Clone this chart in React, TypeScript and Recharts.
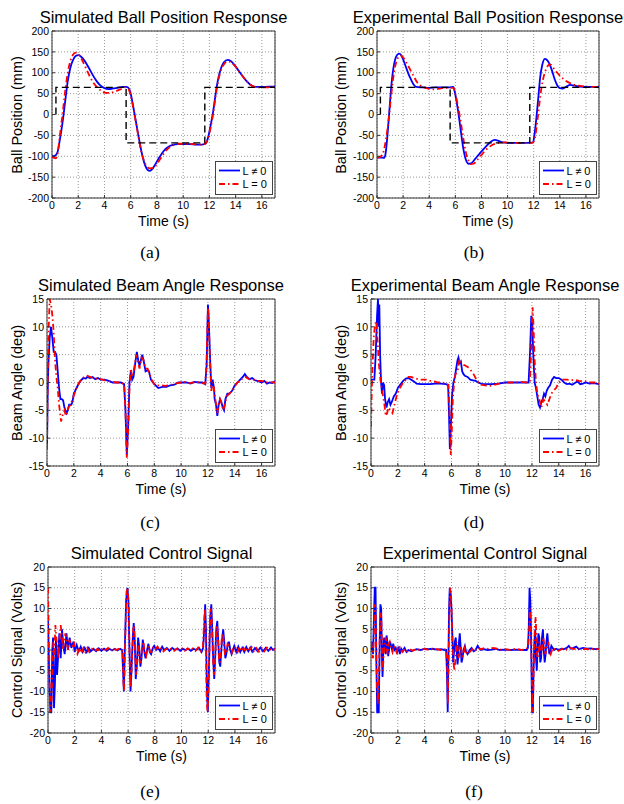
import React from 'react';
import { LineChart, Line, XAxis, YAxis, CartesianGrid, ReferenceArea, Legend } from 'recharts';

type Pt = [number, number];

const timeTicks = [0, 2, 4, 6, 8, 10, 12, 14, 16];
const ballTicks = [-200, -150, -100, -50, 0, 50, 100, 150, 200];
const angleTicks = [-15, -10, -5, 0, 5, 10, 15];
const voltTicks = [-20, -15, -10, -5, 0, 5, 10, 15, 20];
const legendNames = ['L \u2260 0', 'L = 0'];

// (a) Simulated ball position
const simBallRef: Pt[] = [[0.3, 0], [0.3, 65], [5.65, 65], [5.65, -68], [11.65, -68], [11.65, 65], [17, 65]];
const simBallLn0: Pt[] = [[0, -100], [0.2, -99], [0.4, -92], [0.6, -60], [0.8, -20], [1.0, 30], [1.2, 80], [1.4, 112], [1.6, 130], [1.8, 140], [2.0, 142], [2.2, 139], [2.5, 128], [2.8, 112], [3.1, 95], [3.4, 80], [3.7, 69], [4.0, 63], [4.3, 61], [4.6, 62], [5.0, 64], [5.4, 66], [5.7, 66], [5.9, 60], [6.1, 35], [6.3, 0], [6.5, -35], [6.7, -70], [6.9, -100], [7.1, -122], [7.3, -133], [7.45, -135], [7.6, -132], [7.9, -118], [8.2, -102], [8.5, -88], [8.8, -79], [9.2, -73], [9.6, -71], [10, -71], [10.5, -71], [11, -72], [11.4, -72], [11.7, -70], [11.9, -55], [12.1, -25], [12.3, 10], [12.5, 55], [12.7, 90], [12.9, 112], [13.1, 125], [13.4, 131], [13.6, 129], [13.9, 119], [14.2, 106], [14.5, 93], [14.8, 81], [15.1, 72], [15.4, 67], [15.7, 66], [16.2, 66], [16.7, 67], [17, 67]];
const simBallL0: Pt[] = [[0, -102], [0.15, -104], [0.3, -105], [0.45, -90], [0.6, -50], [0.8, 0], [1.0, 55], [1.2, 100], [1.4, 128], [1.6, 143], [1.8, 148], [2.0, 145], [2.3, 130], [2.6, 110], [2.9, 90], [3.2, 74], [3.5, 63], [3.8, 56], [4.1, 52], [4.4, 52], [4.8, 55], [5.2, 60], [5.6, 65], [5.8, 63], [6.0, 45], [6.2, 15], [6.4, -20], [6.6, -55], [6.8, -88], [7.0, -110], [7.2, -123], [7.45, -129], [7.7, -128], [8.0, -118], [8.3, -104], [8.6, -90], [8.9, -80], [9.3, -73], [9.7, -70], [10.2, -70], [10.8, -71], [11.3, -72], [11.7, -70], [11.9, -58], [12.1, -30], [12.3, 5], [12.5, 50], [12.7, 85], [12.9, 108], [13.1, 120], [13.4, 127], [13.6, 126], [13.9, 118], [14.2, 106], [14.5, 93], [14.8, 81], [15.1, 72], [15.4, 67], [15.8, 65], [16.3, 65], [17, 66]];

// (b) Experimental ball position
const expBallRef: Pt[] = [[0.26, 0], [0.26, 65], [5.6, 65], [5.6, -68], [11.7, -68], [11.7, 65], [17, 65]];
const expBallLn0: Pt[] = [[0, -103], [0.3, -103], [0.55, -104], [0.65, -95], [0.8, -50], [0.95, 10], [1.1, 70], [1.25, 110], [1.4, 133], [1.55, 143], [1.7, 146], [1.85, 142], [2.0, 132], [2.2, 115], [2.4, 98], [2.6, 84], [2.8, 72], [3.0, 66], [3.5, 65], [4.0, 64], [4.5, 65], [5.0, 65], [5.5, 65], [5.85, 66], [5.95, 55], [6.1, 30], [6.25, 0], [6.4, -35], [6.6, -80], [6.8, -108], [7.0, -118], [7.2, -117], [7.5, -107], [7.9, -92], [8.3, -78], [8.7, -66], [9.0, -61], [9.3, -63], [9.6, -67], [10, -68], [10.5, -68], [11, -68], [11.5, -68], [11.95, -67], [12.05, -50], [12.2, -10], [12.35, 40], [12.5, 90], [12.65, 118], [12.85, 133], [13.0, 131], [13.2, 122], [13.4, 105], [13.6, 85], [13.8, 70], [14.0, 63], [14.2, 62], [14.5, 67], [14.8, 71], [15.1, 69], [15.5, 67], [16, 66], [16.5, 66], [17, 66]];
const expBallL0: Pt[] = [[0, -103], [0.2, -102], [0.4, -97], [0.6, -75], [0.8, -35], [0.95, 5], [1.1, 50], [1.3, 100], [1.5, 128], [1.7, 139], [1.85, 141], [2.0, 137], [2.2, 127], [2.5, 110], [2.8, 92], [3.1, 76], [3.4, 68], [3.8, 63], [4.2, 60], [4.6, 61], [5.0, 63], [5.5, 64], [5.85, 64], [6.0, 50], [6.2, 20], [6.4, -15], [6.6, -55], [6.8, -90], [7.0, -110], [7.2, -119], [7.4, -118], [7.7, -108], [8.1, -93], [8.5, -80], [8.9, -72], [9.3, -68], [9.8, -67], [10.5, -68], [11.2, -68], [11.9, -68], [12.1, -55], [12.3, -10], [12.45, 30], [12.6, 65], [12.8, 95], [13.0, 112], [13.2, 120], [13.35, 119], [13.5, 112], [13.8, 100], [14.1, 90], [14.4, 82], [14.8, 75], [15.2, 70], [15.7, 68], [16.3, 66], [17, 66]];

// (c) Simulated beam angle
const simAngLn0: Pt[] = [[0, -12], [0.05, -2], [0.1, 3], [0.2, 8], [0.3, 10], [0.4, 8], [0.5, 5.5], [0.6, 5.5], [0.7, 5], [0.8, 2], [0.9, -1], [1.0, -3], [1.1, -3], [1.2, -3.2], [1.3, -4.5], [1.45, -5.5], [1.55, -5], [1.65, -4], [1.8, -4], [1.9, -3.5], [2.0, -2], [2.1, -1.5], [2.3, -0.5], [2.5, 0.3], [2.7, 0.8], [2.9, 0.7], [3.0, 1], [3.2, 0.8], [3.4, 1], [3.6, 0.6], [3.8, 0.8], [4.0, 0.5], [4.3, 0.5], [4.6, 0.3], [4.9, 0], [5.2, 0], [5.5, 0], [5.75, -0.3], [5.85, -5], [5.95, -13], [6.05, -8], [6.15, 0], [6.25, 2], [6.35, 0.5], [6.45, 1], [6.55, 3], [6.7, 5.5], [6.8, 4], [6.9, 3], [7.0, 4], [7.1, 5], [7.2, 4], [7.35, 2], [7.5, 2.2], [7.6, 2], [7.75, 0.5], [7.9, 0], [8.1, -0.5], [8.3, -1], [8.6, -0.8], [8.9, -0.8], [9.2, -0.5], [9.5, -0.4], [9.8, 0], [10.1, 0], [10.4, 0], [10.7, -0.2], [11.0, 0.1], [11.3, 0], [11.6, 0], [11.8, -0.3], [11.9, 3], [12.0, 14], [12.05, 12], [12.15, 5], [12.25, -1], [12.35, 0.5], [12.45, -1], [12.5, -3], [12.6, -4], [12.7, -6], [12.8, -4], [12.9, -3], [13.0, -3.5], [13.1, -4.5], [13.2, -5], [13.3, -3], [13.45, -2], [13.6, -2], [13.8, -1.5], [14.0, -0.5], [14.2, 0], [14.4, 0.5], [14.6, 1], [14.75, 1.5], [14.9, 1], [15.1, 0.6], [15.3, 0.8], [15.5, 0.4], [15.8, 0.2], [16.0, 0], [16.2, 0.3], [16.4, -0.2], [16.6, 0], [16.8, -0.1], [17, 0.2]];
const simAngL0: Pt[] = [[0, -12], [0.05, 0], [0.1, 8], [0.2, 15], [0.3, 14], [0.4, 12], [0.5, 9], [0.6, 4], [0.7, 1], [0.8, -1], [0.9, -4], [1.0, -6], [1.05, -7], [1.15, -6], [1.3, -5], [1.4, -6], [1.5, -5.5], [1.6, -4.5], [1.75, -4], [1.9, -3], [2.05, -2], [2.2, -1], [2.4, 0], [2.6, 0.7], [2.8, 1], [3.0, 1.2], [3.2, 1], [3.4, 0.8], [3.7, 0.7], [4.0, 0.6], [4.3, 0.4], [4.6, 0.3], [4.9, 0.1], [5.2, 0], [5.5, 0], [5.75, -0.3], [5.85, -5], [5.95, -13.5], [6.05, -9], [6.15, -1], [6.25, 2.5], [6.35, 1], [6.5, 2.5], [6.65, 5], [6.8, 3.5], [6.9, 2.5], [7.05, 4.5], [7.2, 4], [7.35, 2.5], [7.5, 2.5], [7.65, 1.5], [7.8, 0.5], [8.0, -0.3], [8.2, -0.5], [8.5, -0.5], [8.8, -0.6], [9.1, -0.5], [9.4, -0.3], [9.7, -0.1], [10, 0], [10.3, 0.1], [10.6, -0.1], [10.9, 0], [11.2, 0.1], [11.5, -0.1], [11.8, -0.2], [11.9, 4], [12.0, 13.5], [12.05, 12], [12.15, 4], [12.25, -1.5], [12.35, 0], [12.45, -1], [12.55, -3], [12.7, -5.5], [12.8, -4], [12.9, -3], [13.05, -4], [13.15, -5], [13.25, -4], [13.4, -2.5], [13.6, -2], [13.8, -1.5], [14.0, -0.7], [14.2, 0], [14.4, 0.3], [14.6, 0.8], [14.8, 1], [15.0, 0.7], [15.2, 0.5], [15.4, 0.5], [15.7, 0.3], [16, 0.3], [16.3, 0], [16.6, 0.1], [17, 0]];

// (d) Experimental beam angle
const expAngLn0: Pt[] = [[0, 0.5], [0.1, 0.5], [0.25, 0.5], [0.35, 5], [0.45, 12], [0.52, 15], [0.58, 10], [0.62, 14], [0.68, 5], [0.75, 0], [0.82, -2], [0.9, 0], [0.98, -0.5], [1.05, -3], [1.15, -4.5], [1.25, -3.5], [1.35, -3], [1.45, -4], [1.55, -3.5], [1.7, -2.5], [1.85, -2], [2.0, -1], [2.2, -0.3], [2.4, 0.3], [2.6, 0.7], [2.8, 0.8], [3.0, 0.5], [3.2, 0.2], [3.4, -0.2], [3.7, -0.3], [4.0, -0.3], [4.4, -0.3], [4.8, -0.2], [5.2, -0.2], [5.6, -0.3], [5.75, -0.5], [5.82, -6], [5.88, -12], [5.95, -8], [6.05, -2], [6.15, 0], [6.25, 1], [6.35, 2.5], [6.45, 4], [6.52, 4.5], [6.6, 3.5], [6.7, 3.8], [6.8, 2], [6.9, 1.5], [7.0, 1.2], [7.2, 1], [7.4, 0.5], [7.6, 0.4], [7.8, 0.3], [8.0, 0], [8.3, -0.3], [8.6, -0.3], [9.0, -0.3], [9.5, -0.2], [10, 0], [10.5, 0], [11, 0], [11.5, 0], [11.75, 0], [11.85, 5], [11.95, 12], [12.02, 11], [12.1, 5], [12.2, 0], [12.3, -1], [12.4, -2.5], [12.5, -4], [12.6, -4.5], [12.7, -3.5], [12.8, -3], [12.9, -2], [13.0, -2.5], [13.1, -1.5], [13.2, -1], [13.35, -0.5], [13.5, 0.5], [13.65, 1], [13.8, 0.8], [14.0, 0.8], [14.2, 0.5], [14.4, 0], [14.6, -0.3], [14.8, -0.2], [15.0, -0.4], [15.2, -0.1], [15.4, 0.2], [15.6, -0.3], [15.8, -0.2], [16, 0], [16.3, -0.2], [16.6, -0.1], [17, -0.3]];
const expAngL0: Pt[] = [[0, -8], [0.05, -2], [0.12, 3], [0.2, 8], [0.3, 10.5], [0.4, 11], [0.5, 7], [0.6, 3], [0.7, 0.5], [0.8, -1], [0.9, -2.5], [1.0, -4], [1.1, -6], [1.2, -5.5], [1.3, -4.5], [1.45, -5], [1.6, -5.5], [1.75, -4], [1.9, -2.5], [2.05, -1.5], [2.2, -0.8], [2.4, 0], [2.6, 0.5], [2.8, 1], [3.0, 1], [3.2, 0.8], [3.5, 0.6], [3.8, 0.5], [4.1, 0.5], [4.4, 0.3], [4.7, 0.2], [5.0, 0], [5.3, 0], [5.6, -0.2], [5.78, -0.4], [5.85, -5], [5.95, -13], [6.02, -9], [6.1, -3], [6.2, 0], [6.3, 1.5], [6.45, 2], [6.6, 4.2], [6.75, 3.5], [6.9, 3.2], [7.05, 3], [7.2, 2.8], [7.35, 2.5], [7.5, 2], [7.65, 1.5], [7.8, 0.8], [8.0, 0], [8.2, -0.4], [8.5, -0.5], [8.8, -0.6], [9.1, -0.5], [9.4, -0.3], [9.7, -0.1], [10.0, 0], [10.4, 0], [10.8, 0], [11.2, 0.1], [11.6, 0], [11.85, 0.3], [11.95, 6], [12.05, 13.5], [12.12, 10], [12.2, 4], [12.3, 0], [12.4, -2], [12.55, -3], [12.7, -4.5], [12.85, -3], [13.0, -3.5], [13.15, -4], [13.3, -3], [13.45, -2], [13.6, -1.5], [13.8, -1], [14.0, 0], [14.3, 0.5], [14.6, 0.5], [14.9, 0.4], [15.2, 0.5], [15.5, 0.3], [15.8, 0.2], [16.1, 0.2], [16.4, 0], [16.7, 0], [17, -0.2]];

// (e) Simulated control signal
const simVoltLn0: Pt[] = [[0, 7], [0.05, 0], [0.12, -10], [0.18, -15], [0.25, -15], [0.32, 0], [0.38, 3], [0.45, -14], [0.52, -8], [0.6, 3], [0.68, -6], [0.75, -2], [0.85, 4], [0.95, -2], [1.05, 5], [1.15, 1], [1.25, -1], [1.38, 4], [1.5, 0], [1.62, 3], [1.75, 0.5], [1.9, 2], [2.0, -0.5], [2.15, 1.2], [2.3, -0.3], [2.45, 0.8], [2.6, -0.5], [2.75, 0.5], [2.9, -0.5], [3.05, 0.5], [3.2, -0.3], [3.4, 0.3], [3.6, -0.3], [3.8, 0.4], [4.0, -0.2], [4.2, 0.3], [4.4, -0.2], [4.6, 0.3], [4.8, -0.1], [5.0, 0.3], [5.2, -0.1], [5.4, 0.3], [5.55, 0], [5.62, -5], [5.68, -10], [5.75, 0], [5.85, 12], [5.95, 15], [6.02, 12], [6.1, 0], [6.18, -10], [6.25, -5], [6.35, 3], [6.42, 6.5], [6.5, 2], [6.57, -7], [6.65, -4], [6.75, 3], [6.82, 1], [6.92, -4], [7.0, -2], [7.1, 2.5], [7.2, 0], [7.3, -2], [7.42, 0], [7.52, 1.5], [7.62, -0.5], [7.72, -1], [7.85, 0.5], [7.95, 1], [8.1, 0], [8.25, 0.5], [8.4, -0.3], [8.55, 0.8], [8.7, 0], [8.9, 0.5], [9.1, -0.2], [9.3, 0.5], [9.5, 0], [9.7, 0.4], [9.9, -0.2], [10.1, 0.3], [10.3, 0], [10.5, 0.3], [10.7, -0.2], [10.9, 0.3], [11.1, 0], [11.3, 0.5], [11.5, -0.5], [11.62, 0.5], [11.7, 5], [11.77, 11], [11.83, 5], [11.9, -10], [11.97, -15], [12.05, -5], [12.15, 8], [12.23, 11], [12.3, 5], [12.38, -3], [12.45, -7], [12.52, -2], [12.6, 5], [12.68, 7], [12.75, 2], [12.83, -3], [12.9, -4], [12.98, 0], [13.05, 3], [13.12, 5], [13.2, 2], [13.28, -2], [13.35, -1], [13.45, 1], [13.55, 2], [13.65, 0], [13.75, -1], [13.85, 0], [13.95, 1], [14.1, -0.5], [14.25, 0.8], [14.4, -0.5], [14.55, 0.5], [14.7, -0.5], [14.85, 0.7], [15.0, -0.3], [15.15, 0.6], [15.3, -0.4], [15.5, 0.5], [15.7, -0.3], [15.9, 0.6], [16.1, -0.3], [16.3, 0.5], [16.5, -0.2], [16.7, 0.6], [16.85, 0], [17, 0.4]];
const simVoltL0: Pt[] = [[0, 15], [0.05, 5], [0.12, -8], [0.18, -15], [0.26, -13], [0.33, -5], [0.4, 2], [0.48, -2], [0.55, 6], [0.62, 3], [0.7, 1], [0.78, -2], [0.85, 2], [0.95, 6], [1.05, 3], [1.12, 0], [1.2, 2], [1.3, 4], [1.4, 2], [1.5, 0], [1.6, 2.5], [1.7, 1.5], [1.85, 1], [1.95, 2], [2.05, 0], [2.2, -1], [2.35, 0.5], [2.5, -0.8], [2.65, 0.5], [2.8, -0.5], [2.95, 0.5], [3.1, -0.5], [3.3, 0.3], [3.5, -0.3], [3.7, 0.3], [3.9, -0.3], [4.1, 0.5], [4.3, 0], [4.5, 0.5], [4.7, -0.2], [4.9, 0.5], [5.1, 0], [5.3, 0.3], [5.5, -0.3], [5.6, 0], [5.65, -8], [5.7, -10], [5.78, 2], [5.88, 14], [5.97, 15], [6.05, 10], [6.12, -3], [6.2, -9], [6.28, -3], [6.38, 5], [6.45, 6], [6.52, 0], [6.6, -6], [6.68, -3], [6.78, 2], [6.88, -3], [6.95, -3], [7.05, 1], [7.15, 2], [7.25, -1], [7.35, -1.5], [7.45, 0.5], [7.55, 1], [7.65, -0.5], [7.75, -0.5], [7.9, 0.8], [8.05, 0.2], [8.2, 0.8], [8.35, 0], [8.5, 0.5], [8.65, -0.3], [8.85, 0.3], [9.05, 0], [9.25, 0.4], [9.45, -0.2], [9.65, 0.3], [9.85, 0], [10.05, 0.4], [10.25, -0.2], [10.45, 0.4], [10.65, 0], [10.85, 0.4], [11.05, -0.2], [11.25, 0.6], [11.45, -0.3], [11.6, 0.6], [11.68, 6], [11.75, 10], [11.82, 2], [11.88, -12], [11.95, -15], [12.02, -10], [12.1, 3], [12.18, 10], [12.25, 9], [12.33, 0], [12.42, -6], [12.5, -4], [12.58, 3], [12.65, 6], [12.72, 4], [12.8, -2], [12.88, -3], [12.95, 0], [13.02, 3], [13.1, 4], [13.18, 1], [13.25, -1], [13.35, -1], [13.45, 1.5], [13.55, 1], [13.65, -0.5], [13.75, -0.8], [13.9, 0.8], [14.05, 0.5], [14.2, -0.5], [14.35, 0.8], [14.5, -0.3], [14.65, 0.5], [14.8, -0.5], [14.95, 0.6], [15.1, 0], [15.25, 0.7], [15.4, -0.3], [15.6, 0.5], [15.8, -0.4], [16.0, 0.5], [16.2, -0.3], [16.4, 0.6], [16.6, 0], [16.8, 0.5], [17, 0]];

// (f) Experimental control signal
const expVoltLn0: Pt[] = [[0, 0], [0.08, 2], [0.15, -1], [0.22, 8], [0.28, 15], [0.34, 15], [0.4, -3], [0.46, -15], [0.52, -15], [0.58, -15], [0.64, 0], [0.7, 11], [0.76, 10], [0.82, -2], [0.86, -6.5], [0.92, 0], [0.98, 3], [1.04, 2], [1.1, -1], [1.16, 3.5], [1.22, 2], [1.28, -1.5], [1.35, 0], [1.42, 2], [1.5, 1], [1.58, 0], [1.66, 1.5], [1.75, 0], [1.85, 0.5], [1.95, -0.5], [2.05, 0.8], [2.15, -1], [2.25, 0.3], [2.35, -0.3], [2.5, 0.5], [2.65, -0.5], [2.8, 0], [3.0, -0.3], [3.2, 0], [3.4, 0.2], [3.7, 0], [4.0, 0.3], [4.3, 0.2], [4.6, 0.3], [4.9, 0.1], [5.2, 0.2], [5.5, 0], [5.6, 0], [5.66, -5], [5.72, -15], [5.76, -5], [5.82, 10], [5.87, 15], [5.93, 14], [6.0, 10], [6.06, 4], [6.12, -3], [6.18, -1], [6.25, 2], [6.32, 3], [6.38, 0], [6.45, -3.5], [6.5, -2], [6.56, 2], [6.62, 4], [6.68, 1], [6.75, -3], [6.82, -2], [6.9, 0], [7.0, 1], [7.1, -0.5], [7.2, -1], [7.35, 0], [7.5, 0.5], [7.65, -0.3], [7.8, 0], [7.95, 1], [8.05, 0.5], [8.2, 0], [8.4, 0.2], [8.7, 0], [9.0, 0.1], [9.3, 0.3], [9.6, 0], [10, 0.1], [10.4, 0], [10.8, 0.1], [11.2, 0], [11.6, 0], [11.7, 0.5], [11.76, 5], [11.82, 15], [11.88, 12], [11.93, 4], [11.98, -8], [12.02, -15], [12.07, -15], [12.12, -5], [12.18, 2], [12.25, 5], [12.3, -2], [12.36, -5], [12.42, 0], [12.48, 4], [12.55, 3], [12.62, -3], [12.68, -2], [12.75, 3], [12.82, 5], [12.88, 0], [12.95, -3], [13.02, -1], [13.08, 2], [13.15, 4], [13.22, 1], [13.3, -1], [13.38, 0], [13.45, 1], [13.55, 0.5], [13.65, 0], [13.8, 0.3], [14.0, 0], [14.2, 0.3], [14.4, 0.2], [14.6, 0.5], [14.75, 1], [14.9, 0.3], [15.1, 0.5], [15.3, 0.8], [15.5, 0.2], [15.8, 0.5], [16.1, 0.3], [16.4, 0.4], [16.7, 0.2], [17, 0.3]];
const expVoltL0: Pt[] = [[0, 2], [0.08, -1], [0.15, -2], [0.22, 4], [0.28, 11], [0.34, 9], [0.4, -2], [0.46, -10], [0.52, -13], [0.58, -8], [0.64, 2], [0.7, 8], [0.76, 9], [0.82, 0], [0.88, -5], [0.95, -1], [1.02, 2], [1.1, 3], [1.18, 0], [1.25, -1], [1.32, 1.5], [1.4, 2], [1.5, 0.5], [1.6, -0.5], [1.7, 1], [1.8, 0.5], [1.9, -0.5], [2.0, 0.5], [2.1, 1], [2.2, 0], [2.35, -0.5], [2.5, 0.3], [2.7, -0.3], [2.9, 0.2], [3.1, -0.2], [3.4, 0.2], [3.7, 0], [4.0, 0.3], [4.3, 0], [4.6, 0.3], [4.9, 0.2], [5.2, 0], [5.5, 0.2], [5.62, 0], [5.68, -4], [5.73, -13], [5.78, -3], [5.84, 8], [5.9, 15], [5.96, 14], [6.02, 8], [6.08, 2], [6.15, -3], [6.22, -5], [6.3, -2], [6.38, 2], [6.45, 1], [6.52, -2], [6.6, -1], [6.7, 1], [6.8, -1.5], [6.9, -1], [7.0, 0.5], [7.1, -0.5], [7.2, -1], [7.35, -0.5], [7.5, 0], [7.65, 0.5], [7.8, 0], [8.0, 0.5], [8.2, 0.2], [8.5, 0.5], [8.8, 0.2], [9.1, 0.5], [9.4, 0.3], [9.7, 0.1], [10, 0.2], [10.4, 0], [10.8, 0.3], [11.2, 0], [11.6, 0.2], [11.72, 1], [11.78, 4], [11.84, 10], [11.9, 8], [11.95, 2], [12.0, -8], [12.05, -15], [12.1, -10], [12.16, 0], [12.22, 6], [12.28, 8], [12.34, 2], [12.4, -2], [12.48, -1], [12.55, 2], [12.62, 0], [12.7, -1], [12.78, 1.5], [12.85, 3], [12.92, 1], [13.0, -1], [13.08, 0], [13.15, 1], [13.22, 2], [13.3, 0], [13.4, -1], [13.5, 0], [13.6, 0.5], [13.75, 0], [13.9, -0.3], [14.1, 0], [14.3, 0.3], [14.5, 0], [14.7, 0.3], [14.9, 0.5], [15.1, 0.2], [15.4, 0.4], [15.7, 0.2], [16, 0.3], [16.3, 0.1], [16.6, 0.3], [17, 0.2]];

const SANS = '"Liberation Sans", Arial, Helvetica, sans-serif';
const SERIF = '"Liberation Serif", "Times New Roman", Times, serif';
const BLUE = '#0000ff';
const RED = '#ff0000';
const DASHDOT = '6 3 1.5 3';
const LW = 1.8;

const toRows = (pts: Pt[]) => pts.map(([t, y]) => ({ t, y }));

type PanelDef = {
  plotLeft: number; plotTop: number; plotW: number; plotH: number;
  yDomain: [number, number]; yTicks: number[];
  title: string; yLabel: string; caption: string; captionX: number; captionY: number; yLabelX: number;
  ln0: Pt[]; l0: Pt[]; ref?: Pt[]; smooth: boolean;
};

const panels: PanelDef[] = [
  { plotLeft: 52, plotTop: 31, plotW: 223, plotH: 167, yDomain: [-200, 200], yTicks: ballTicks, title: 'Simulated Ball Position Response', yLabel: 'Ball Position (mm)', caption: '(a)', captionX: 150, captionY: 253, yLabelX: 17, ln0: simBallLn0, l0: simBallL0, ref: simBallRef, smooth: true },
  { plotLeft: 377, plotTop: 31, plotW: 222, plotH: 167, yDomain: [-200, 200], yTicks: ballTicks, title: 'Experimental Ball Position Response', yLabel: 'Ball Position (mm)', caption: '(b)', captionX: 474, captionY: 253, yLabelX: 340.5, ln0: expBallLn0, l0: expBallL0, ref: expBallRef, smooth: true },
  { plotLeft: 47, plotTop: 299, plotW: 228, plotH: 167, yDomain: [-15, 15], yTicks: angleTicks, title: 'Simulated Beam Angle Response', yLabel: 'Beam Angle (deg)', caption: '(c)', captionX: 150, captionY: 523, yLabelX: 17, ln0: simAngLn0, l0: simAngL0, smooth: false },
  { plotLeft: 371, plotTop: 299, plotW: 228, plotH: 167, yDomain: [-15, 15], yTicks: angleTicks, title: 'Experimental Beam Angle Response', yLabel: 'Beam Angle (deg)', caption: '(d)', captionX: 474, captionY: 523, yLabelX: 340.5, ln0: expAngLn0, l0: expAngL0, smooth: false },
  { plotLeft: 48, plotTop: 567, plotW: 227, plotH: 166, yDomain: [-20, 20], yTicks: voltTicks, title: 'Simulated Control Signal', yLabel: 'Control Signal (Volts)', caption: '(e)', captionX: 150, captionY: 792, yLabelX: 17, ln0: simVoltLn0, l0: simVoltL0, smooth: false },
  { plotLeft: 371, plotTop: 567, plotW: 228, plotH: 166, yDomain: [-20, 20], yTicks: voltTicks, title: 'Experimental Control Signal', yLabel: 'Control Signal (Volts)', caption: '(f)', captionX: 474, captionY: 792, yLabelX: 340.5, ln0: expVoltLn0, l0: expVoltL0, smooth: false },
];

const YAW = 45; // y axis width
const MT = 10;
const MR = 4;
const XAH = 20;

const LegendBox = () => (
  <svg width={58} height={34} style={{ display: 'block' }}>
    <rect x={0.5} y={0.5} width={57} height={33} fill="#fff" stroke="#444" strokeWidth={1} />
    <line x1={4} x2={25} y1={9.5} y2={9.5} stroke={BLUE} strokeWidth={LW} />
    <line x1={4} x2={25} y1={23} y2={23} stroke={RED} strokeWidth={LW} strokeDasharray={DASHDOT} />
    <text x={27.5} y={13.5} fontSize={11} fontFamily={SANS} fill="#000">{legendNames[0]}</text>
    <text x={27.5} y={27} fontSize={11} fontFamily={SANS} fill="#000">{legendNames[1]}</text>
  </svg>
);

const centered = (x: number, y: number, extra: React.CSSProperties = {}): React.CSSProperties => ({
  position: 'absolute', left: x, top: y, transform: 'translate(-50%, -50%)', whiteSpace: 'nowrap', lineHeight: 1, color: '#000', fontWeight: 'normal', ...extra,
});

const Panel = ({ p }: { p: PanelDef }) => {
  const w = YAW + p.plotW + MR;
  const h = MT + p.plotH + XAH;
  const cx = p.plotLeft + p.plotW / 2;
  const cy = p.plotTop + p.plotH / 2;
  const interp = p.smooth ? 'monotone' : 'linear';
  return (
    <>
      <div style={centered(cx, p.plotTop - 14.5, { fontFamily: SANS, fontSize: 16.5 })}>{p.title}</div>
      <div style={centered(cx, p.plotTop + p.plotH + 22.5, { fontFamily: SANS, fontSize: 14 })}>Time (s)</div>
      <div style={centered(p.yLabelX, cy, { fontFamily: SANS, fontSize: 14.5, transform: 'translate(-50%, -50%) rotate(-90deg)' })}>{p.yLabel}</div>
      <div style={centered(p.captionX, p.captionY, { fontFamily: SERIF, fontSize: 17.5 })}>{p.caption}</div>
      <div style={{ position: 'absolute', left: p.plotLeft - YAW, top: p.plotTop - MT }}>
        <LineChart width={w} height={h} margin={{ top: MT, right: MR, left: 0, bottom: 0 }}>
          <CartesianGrid stroke="#999" strokeDasharray="1 2" />
          <XAxis
            type="number" dataKey="t" domain={[0, 17]} ticks={timeTicks} interval={0} allowDataOverflow
            height={XAH} axisLine={false} tickSize={-3} tickMargin={7}
            tickLine={{ stroke: '#333' }}
            tick={{ fontSize: 10.5, fill: '#000', fontFamily: SANS }}
          />
          <YAxis
            type="number" domain={p.yDomain} ticks={p.yTicks} interval={0} allowDataOverflow
            width={YAW} axisLine={false} tickSize={-3} tickMargin={6}
            tickLine={{ stroke: '#333' }}
            tick={{ fontSize: 10.5, fill: '#000', fontFamily: SANS }}
          />
          <Line data={toRows(p.ln0)} dataKey="y" name={legendNames[0]} type={interp} stroke={BLUE} strokeWidth={LW} dot={false} isAnimationActive={false} />
          <Line data={toRows(p.l0)} dataKey="y" name={legendNames[1]} type={interp} stroke={RED} strokeWidth={LW} strokeDasharray={DASHDOT} dot={false} isAnimationActive={false} />
          {p.ref && (
            <Line data={toRows(p.ref)} dataKey="y" name="ref" legendType="none" type="linear" stroke="#000" strokeWidth={1.4} strokeDasharray="7 4" dot={false} isAnimationActive={false} />
          )}
          <ReferenceArea x1={0} x2={17} y1={p.yDomain[0]} y2={p.yDomain[1]} fill="none" fillOpacity={0} stroke="#333" strokeWidth={1} ifOverflow="visible" />
          <Legend
            layout="vertical" align="center" verticalAlign="middle"
            wrapperStyle={{ left: YAW + p.plotW - 2 - 58, top: MT + p.plotH - 3 - 34, width: 58, height: 34 }}
            content={() => <LegendBox />}
          />
        </LineChart>
      </div>
    </>
  );
};

export default function App() {
  return (
    <div style={{ position: 'absolute', left: 0, top: 0, width: 624, height: 804, background: '#fff', overflow: 'hidden' }}>
      {panels.map((p) => (
        <Panel key={p.caption} p={p} />
      ))}
    </div>
  );
}
